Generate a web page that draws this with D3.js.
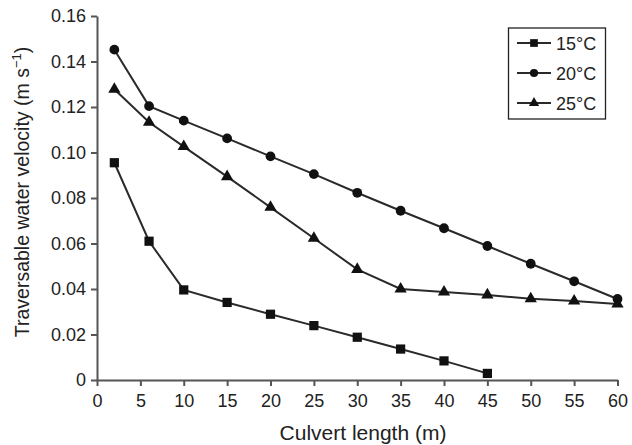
<!DOCTYPE html>
<html><head><meta charset="utf-8">
<script src="https://cdn.jsdelivr.net/npm/d3@7"></script>
<style>body{margin:0;background:#fff}svg{display:block}text{font-family:"Liberation Sans",Arial,sans-serif;fill:#222}</style>
</head><body><svg id="c" width="632" height="445"></svg>
<script>
const lengths15 = [2, 6, 10, 15, 20, 25, 30, 35, 40, 45];
const values15 = [0.0955, 0.061, 0.0396, 0.0341, 0.0289, 0.0239, 0.0188, 0.0136, 0.0084, 0.0029];
const lengths20 = [2, 6, 10, 15, 20, 25, 30, 35, 40, 45, 50, 55, 60];
const values20 = [0.1452, 0.1204, 0.114, 0.1062, 0.0983, 0.0905, 0.0823, 0.0744, 0.0667, 0.0589, 0.0511, 0.0434, 0.0356];
const lengths25 = [2, 6, 10, 15, 20, 25, 30, 35, 40, 45, 50, 55, 60];
const values25 = [0.1278, 0.1133, 0.1026, 0.0894, 0.0759, 0.0623, 0.0486, 0.040, 0.0387, 0.0374, 0.0357, 0.0347, 0.0334];
const seriesNames = ["15°C", "20°C", "25°C"];
const xTicks = [0, 5, 10, 15, 20, 25, 30, 35, 40, 45, 50, 55, 60];
const yTicks = [0, 0.02, 0.04, 0.06, 0.08, 0.10, 0.12, 0.14, 0.16];
const yTickLabels = ["0", "0.02", "0.04", "0.06", "0.08", "0.10", "0.12", "0.14", "0.16"];

const svg = d3.select("#c");
const m = {l: 97, r: 15, t: 16, b: 65};
const x = d3.scaleLinear().domain([0, 60]).range([m.l, 617.5]);
const y = d3.scaleLinear().domain([0, 0.16]).range([380, m.t]);
const ink = "#2a2a2a";

const xa = svg.append("g").attr("transform", "translate(0,380)")
  .call(d3.axisBottom(x).tickValues(xTicks).tickSize(6).tickSizeOuter(0).tickPadding(8).tickFormat(d3.format("d")));
const ya = svg.append("g").attr("transform", `translate(${m.l},0)`)
  .call(d3.axisLeft(y).tickValues(yTicks).tickSize(6).tickSizeOuter(0).tickPadding(5).tickFormat((d, i) => yTickLabels[i]));
[xa, ya].forEach(a => {
  a.selectAll("path,line").attr("stroke", "#555").attr("stroke-width", 2);
  a.selectAll("text").attr("font-size", 18).attr("fill", "#222").attr("font-family", '"Liberation Sans",Arial,sans-serif');
});

svg.append("text").attr("x", 363).attr("y", 440).attr("text-anchor", "middle")
  .attr("font-size", 21).text("Culvert length (m)");
const yt = svg.append("text").attr("transform", "translate(29,192) rotate(-90)").attr("text-anchor", "middle")
  .attr("font-size", 19.5);
yt.append("tspan").text("Traversable water velocity (m s");
yt.append("tspan").attr("dy", -8).attr("font-size", 13).text("−1");
yt.append("tspan").attr("dy", 8).text(")");

const series = [
  {name: seriesNames[0], xs: lengths15, ys: values15, shape: d3.symbolSquare, size: 85},
  {name: seriesNames[1], xs: lengths20, ys: values20, shape: d3.symbolCircle, size: 75},
  {name: seriesNames[2], xs: lengths25, ys: values25, shape: d3.symbolTriangle, size: 65}
];
const line = d3.line().x(d => x(d[0])).y(d => y(d[1]));
series.forEach(s => {
  const pts = s.xs.map((v, i) => [v, s.ys[i]]);
  svg.append("path").attr("d", line(pts)).attr("fill", "none").attr("stroke", ink).attr("stroke-width", 2);
  svg.append("g").selectAll("path").data(pts).join("path")
    .attr("transform", d => `translate(${x(d[0])},${y(d[1])})`)
    .attr("d", d3.symbol(s.shape, s.size)).attr("fill", "#111");
});

const lg = svg.append("g");
lg.append("rect").attr("x", 508.5).attr("y", 28).attr("width", 97).attr("height", 91)
  .attr("fill", "#fff").attr("stroke", "#222").attr("stroke-width", 1.3);
series.forEach((s, i) => {
  const yy = 43 + i * 30;
  lg.append("line").attr("x1", 517).attr("x2", 551).attr("y1", yy).attr("y2", yy).attr("stroke", ink).attr("stroke-width", 2);
  lg.append("path").attr("transform", `translate(534,${yy})`).attr("d", d3.symbol(s.shape, s.size * 0.7)).attr("fill", "#111");
  lg.append("text").attr("x", 556).attr("y", yy + 6.5).attr("font-size", 18).text(s.name);
});
</script></body></html>
